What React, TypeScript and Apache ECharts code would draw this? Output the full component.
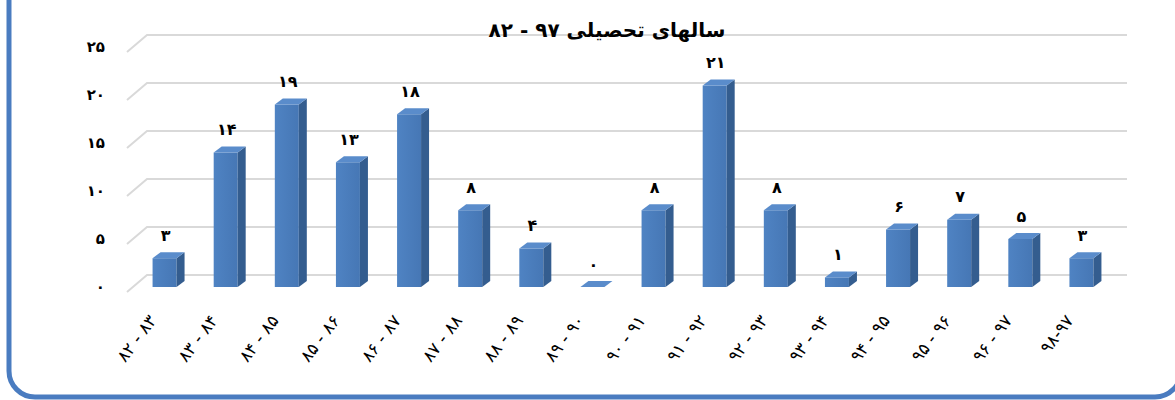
import React, { useEffect, useRef } from "react";
import * as echarts from "echarts";

const titleText = "سالهای تحصیلی ۹۷ - ۸۲";
const categories = [
  "۸۲ - ۸۳", "۸۳ - ۸۴", "۸۴ - ۸۵", "۸۵ - ۸۶", "۸۶ - ۸۷", "۸۷ - ۸۸",
  "۸۸ - ۸۹", "۸۹ - ۹۰", "۹۰ - ۹۱", "۹۱ - ۹۲", "۹۲ - ۹۳", "۹۳ - ۹۴",
  "۹۴ - ۹۵", "۹۵ - ۹۶", "۹۶ - ۹۷", "۹۸-۹۷",
];
const values = [3, 14, 19, 13, 18, 8, 4, 0, 8, 21, 8, 1, 6, 7, 5, 3];
const yTicks = [0, 5, 10, 15, 20, 25];

const FA = "۰۱۲۳۴۵۶۷۸۹";
const toFa = (n: number) => String(n).replace(/[0-9]/g, (d) => FA[+d]);

const FONT = "'DejaVu Sans', sans-serif";

export default function App() {
  const ref = useRef<HTMLDivElement>(null);
  useEffect(() => {
    if (!ref.current) return;
    const chart = echarts.init(ref.current, null, { renderer: "svg" });
    const bw = 24;
    const dx = 8;
    const dy = 6;
    chart.setOption({
      animation: false,
      backgroundColor: "#ffffff",
      graphic: [
        {
          type: "rect",
          shape: { x: 9, y: -40, width: 1172, height: 437, r: 26 },
          style: { fill: "none", stroke: "#4a7cc0", lineWidth: 5 },
          z: 100,
        },
        {
          type: "text",
          x: 607,
          y: 30,
          style: {
            text: titleText,
            font: `bold 20px ${FONT}`,
            fill: "#000",
            align: "center",
            verticalAlign: "middle",
          },
          z: 50,
        },
      ],
      grid: { left: 134, right: 63, top: 47, bottom: 113 },
      xAxis: {
        type: "category",
        data: categories,
        axisLine: { show: false },
        axisTick: { show: false },
        splitLine: { show: false },
        axisLabel: { show: false },
      },
      yAxis: {
        type: "value",
        min: 0,
        max: 25,
        interval: 5,
        axisLine: { show: false },
        axisTick: { show: false },
        splitLine: { show: false },
        axisLabel: {
          margin: 29,
          fontFamily: FONT,
          fontSize: 15,
          fontWeight: "bold",
          color: "#000",
          formatter: (v: number) => toFa(v),
        },
      },
      series: [
        {
          type: "custom",
          z: 1,
          clip: false,
          silent: true,
          data: yTicks.map((v) => [0, v]),
          encode: { x: 0, y: 1 },
          renderItem: (params: any, api: any) => {
            const cs = params.coordSys;
            const y = api.coord([0, api.value(1)])[1];
            return {
              type: "polyline",
              shape: {
                points: [
                  [cs.x - 7, y + 5],
                  [cs.x + 13, y - 12],
                  [cs.x + cs.width + 15, y - 12],
                ],
              },
              style: { stroke: "#d9d9d9", lineWidth: 2, fill: "none" },
            };
          },
        },
        {
          type: "custom",
          z: 5,
          clip: false,
          silent: true,
          data: values.map((v, i) => [i, v]),
          encode: { x: 0, y: 1 },
          renderItem: (params: any, api: any) => {
            const i = api.value(0);
            const v = api.value(1);
            const base = api.coord([i, 0]);
            const top = api.coord([i, v]);
            const x0 = base[0] - bw / 2;
            const h = base[1] - top[1];
            return {
              type: "group",
              children: [
                {
                  type: "rect",
                  shape: { x: x0, y: top[1], width: bw, height: h },
                  style: {
                    fill: new echarts.graphic.LinearGradient(0, 0, 1, 0, [
                      { offset: 0, color: "#4f83c3" },
                      { offset: 1, color: "#4677b5" },
                    ]),
                  },
                },
                {
                  type: "polygon",
                  shape: {
                    points: [
                      [x0 + bw, top[1]],
                      [x0 + bw + dx, top[1] - dy],
                      [x0 + bw + dx, base[1] - dy],
                      [x0 + bw, base[1]],
                    ],
                  },
                  style: { fill: "#345d8f" },
                },
                {
                  type: "polygon",
                  shape: {
                    points: [
                      [x0, top[1]],
                      [x0 + dx, top[1] - dy],
                      [x0 + bw + dx, top[1] - dy],
                      [x0 + bw, top[1]],
                    ],
                  },
                  style: { fill: "#5a8ccb" },
                },
                {
                  type: "text",
                  x: base[0] + 1,
                  y: top[1] - 23,
                  style: {
                    text: toFa(v),
                    font: `bold 16px ${FONT}`,
                    fill: "#000",
                    align: "center",
                    verticalAlign: "middle",
                  },
                },
                {
                  type: "text",
                  x: base[0] - 12,
                  y: base[1] + 30,
                  rotation: (53 * Math.PI) / 180,
                  style: {
                    text: categories[i],
                    font: `17px ${FONT}`,
                    fill: "#000",
                    align: "right",
                    verticalAlign: "middle",
                  },
                },
              ],
            };
          },
        },
      ],
    });
    return () => chart.dispose();
  }, []);
  return (
    <div
      ref={ref}
      style={{ position: "fixed", left: 0, top: 0, width: 1175, height: 400, background: "#fff" }}
    />
  );
}
